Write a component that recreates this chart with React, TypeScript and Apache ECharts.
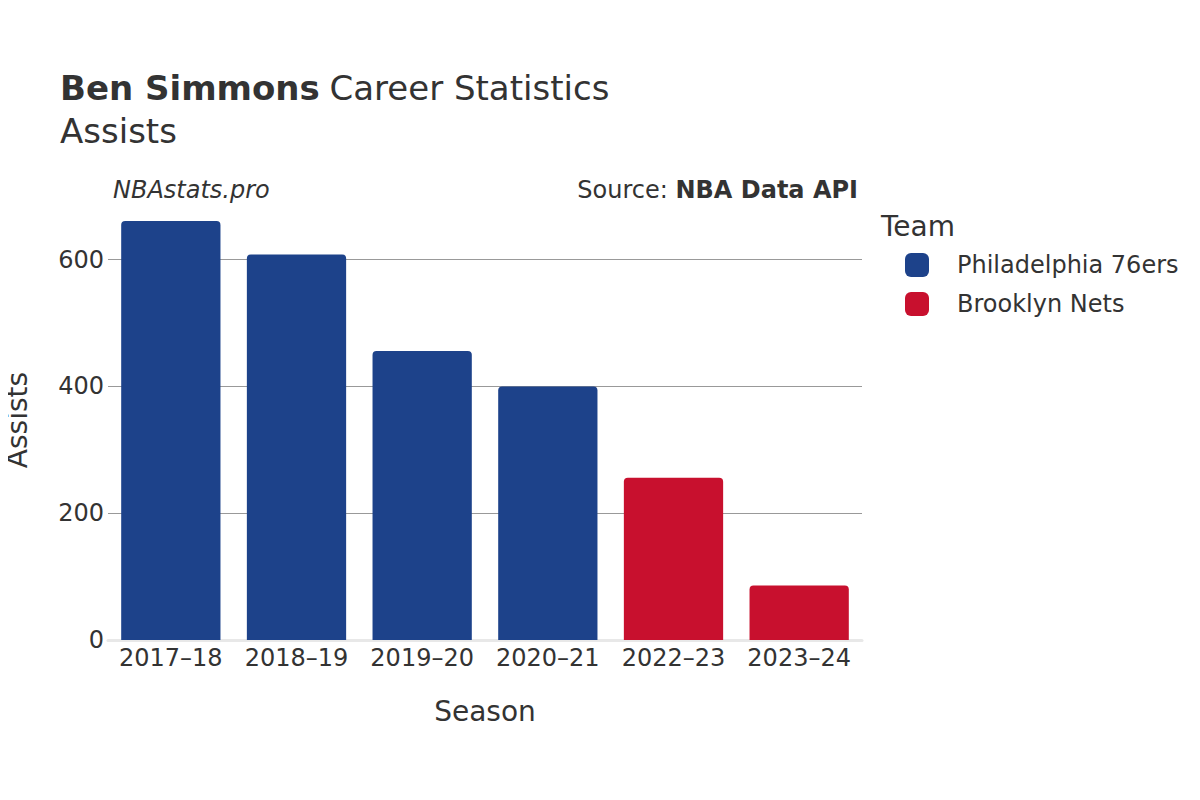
import React, { useEffect, useRef } from "react";
import * as echarts from "echarts";

const seasons = ["2017–18", "2018–19", "2019–20", "2020–21", "2022–23", "2023–24"];
const sixersAssists = [661, 608, 456, 400, null, null];
const netsAssists = [null, null, null, null, 256, 86];
const teams = ["Philadelphia 76ers", "Brooklyn Nets"];
const yTicks = [0, 200, 400, 600];

const FONT = "DejaVu Sans";

export default function App() {
  const ref = useRef<HTMLDivElement>(null);
  useEffect(() => {
    if (!ref.current) return;
    const chart = echarts.init(ref.current, null, { renderer: "svg" });
    chart.setOption({
      animation: false,
      backgroundColor: "#ffffff",
      textStyle: { fontFamily: FONT },
      title: {
        left: 60,
        top: 66,
        padding: 0,
        text: "{b|Ben Simmons} {n|Career Statistics}\n{n|Assists}",
        textStyle: {
          fontWeight: "normal",
          rich: {
            b: { fontFamily: FONT, fontSize: 34, fontWeight: "bold", color: "#333333", lineHeight: 43, padding: [0, 4, 0, 0] },
            n: { fontFamily: FONT, fontSize: 34, fontWeight: "normal", color: "#333333", lineHeight: 43 },
          },
        },
      },
      graphic: [
        {
          type: "text",
          left: 113,
          top: 178,
          style: { text: "NBAstats.pro", font: `italic 24px "${FONT}"`, fill: "#333333" },
        },
        {
          type: "text",
          right: 342,
          top: 178,
          style: {
            text: "{n|Source: }{b|NBA Data API}",
            rich: {
              n: { fontFamily: FONT, fontSize: 24, fill: "#333333" },
              b: { fontFamily: FONT, fontSize: 24, fontWeight: "bold", fill: "#333333" },
            },
          },
        },
        {
          type: "text",
          left: 881,
          top: 212,
          style: { text: "Team", font: `28px "${FONT}"`, fill: "#333333" },
        },
      ],
      legend: {
        orient: "vertical",
        left: 905,
        top: 253,
        padding: 0,
        itemWidth: 24,
        itemHeight: 24,
        itemGap: 15,
        icon: "roundRect",
        data: teams,
        textStyle: { fontFamily: FONT, fontSize: 24, color: "#333333", padding: [0, 0, 0, 23] },
      },
      grid: { left: 108, right: 338, top: 200, bottom: 160, outerBoundsMode: "none", containLabel: false },
      xAxis: {
        type: "category",
        data: seasons,
        name: "Season",
        nameLocation: "middle",
        nameGap: 57,
        nameTextStyle: { fontFamily: FONT, fontSize: 28, color: "#333333" },
        axisTick: { show: false },
        axisLine: { lineStyle: { color: "#e8e8e8", width: 3 } },
        axisLabel: { fontFamily: FONT, fontSize: 24, color: "#333333", margin: 6, interval: 0 },
      },
      yAxis: {
        type: "value",
        min: 0,
        max: 694,
        interval: 200,
        name: "Assists",
        nameLocation: "middle",
        nameGap: 77,
        nameTextStyle: { fontFamily: FONT, fontSize: 28, color: "#333333" },
        axisLine: { show: false },
        axisTick: { show: false },
        splitLine: {
          lineStyle: {
            color: ["#999999", "#999999", "#999999", "#999999", "rgba(0,0,0,0)"],
            width: 1,
          },
        },
        axisLabel: {
          fontFamily: FONT,
          fontSize: 24,
          color: "#333333",
          margin: 4,
          formatter: (v: number) => (yTicks.includes(v) ? String(v) : ""),
        },
      },
      series: [
        {
          name: teams[0],
          type: "bar",
          stack: "team",
          data: sixersAssists,
          barCategoryGap: "21%",
          itemStyle: { color: "#1d428a", borderRadius: [4, 4, 0, 0] },
        },
        {
          name: teams[1],
          type: "bar",
          stack: "team",
          data: netsAssists,
          barCategoryGap: "21%",
          itemStyle: { color: "#c8102e", borderRadius: [4, 4, 0, 0] },
        },
      ],
    });
    return () => chart.dispose();
  }, []);
  return <div ref={ref} style={{ width: 1200, height: 800, margin: -8 }} />;
}
